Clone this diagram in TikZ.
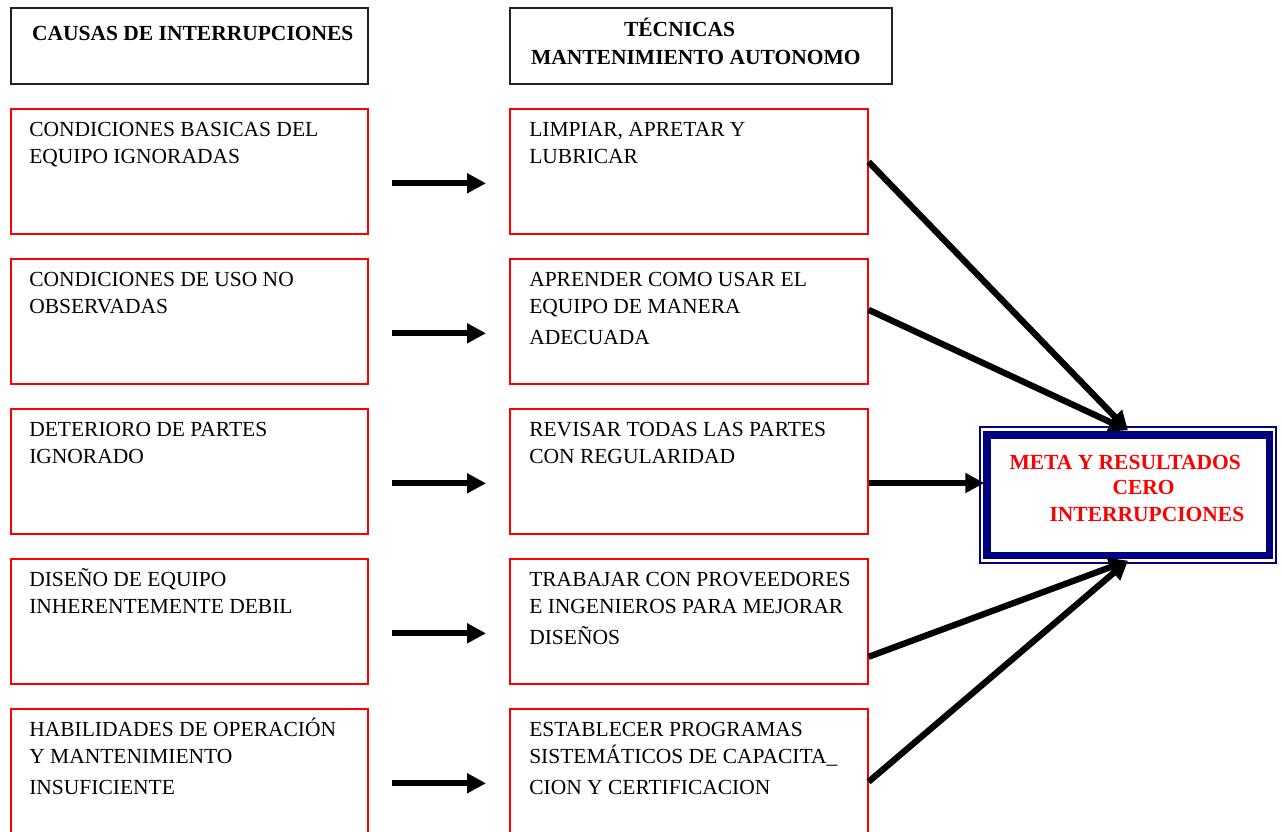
\documentclass[tikz,border=0pt]{standalone}
\usepackage{fontspec}
\setmainfont{Liberation Serif}
\usetikzlibrary{arrows.meta}

\definecolor{boxred}{HTML}{FF0000}
\definecolor{goalnavy}{HTML}{000080}
\definecolor{hdrgray}{HTML}{222222}

% lines of a box label, aligned on the baseline of the first line
\newcommand\boxlines[1]{\begin{tabular}[t]{@{}l@{}}#1\end{tabular}}

\tikzset{
  causebox/.style={draw=boxred, line width=1.9pt, minimum width=357.6pt,
                   minimum height=125pt, inner sep=0pt},
  headbox/.style={draw=hdrgray, line width=2.2pt, minimum height=75.7pt, inner sep=0pt},
  boxtext/.style={anchor=base west, inner sep=0pt, font=\fontsize{21.5}{27.5}\selectfont},
  headtext/.style={anchor=base west, inner sep=0pt, font=\fontsize{21.5}{27.5}\selectfont\bfseries},
  goaltext/.style={anchor=base west, inner sep=0pt, text=boxred,
                   font=\fontsize{21.5}{25}\selectfont\bfseries},
  goalbox/.style={draw=goalnavy, line width=1.3pt, minimum width=296pt,
                  minimum height=136pt, inner sep=0pt},
  flow/.style={line width=6.3pt, -{Triangle[length=19pt,width=19pt]}},
}

\begin{document}
\begin{tikzpicture}[x=1pt, y=-1pt]
\useasboundingbox (0,0) rectangle (1283,831);
\clip (0,0) rectangle (1283,831);

% column headers
\node[headbox, minimum width=357.6pt] (h1) at (189.5,46.2) {};
\node[headbox, minimum width=381.7pt] (h2) at (700.8,46.2) {};
\node[headtext] (h1t) at ([xshift=22.3pt,yshift=-33.7pt]h1.north west)
  {CAUSAS DE INTERRUPCIONES};
\node[headtext] (h2t) at ([xshift=22pt,yshift=-29.7pt]h2.north west)
  {\boxlines{\hspace*{93pt}TÉCNICAS\\ MANTENIMIENTO AUTONOMO}};

% causes (left column)
\node[causebox] (l1) at (189.5,171.8) {};
\node[causebox] (l2) at (189.5,321.8) {};
\node[causebox] (l3) at (189.5,471.8) {};
\node[causebox] (l4) at (189.5,621.8) {};
\node[causebox] (l5) at (189.5,771.8) {};

% techniques (right column)
\node[causebox] (r1) at (688.8,171.8) {};
\node[causebox] (r2) at (688.8,321.8) {};
\node[causebox] (r3) at (688.8,471.8) {};
\node[causebox] (r4) at (688.8,621.8) {};
\node[causebox] (r5) at (688.8,771.8) {};

\node[boxtext] (l1t) at ([xshift=19.3pt,yshift=-28pt]l1.north west)
  {\boxlines{CONDICIONES BASICAS DEL\\ EQUIPO IGNORADAS}};
\node[boxtext] (l2t) at ([xshift=19.3pt,yshift=-28pt]l2.north west)
  {\boxlines{CONDICIONES DE USO NO\\ OBSERVADAS}};
\node[boxtext] (l3t) at ([xshift=19.3pt,yshift=-28pt]l3.north west)
  {\boxlines{DETERIORO DE PARTES\\ IGNORADO}};
\node[boxtext] (l4t) at ([xshift=19.3pt,yshift=-28pt]l4.north west)
  {\boxlines{DISEÑO DE EQUIPO\\ INHERENTEMENTE DEBIL}};
\node[boxtext] (l5t) at ([xshift=19.3pt,yshift=-28pt]l5.north west)
  {\boxlines{HABILIDADES DE OPERACIÓN\\ Y MANTENIMIENTO\\[3pt] INSUFICIENTE}};

\node[boxtext] (r1t) at ([xshift=20pt,yshift=-28pt]r1.north west)
  {\boxlines{LIMPIAR, APRETAR Y\\ LUBRICAR}};
\node[boxtext] (r2t) at ([xshift=20pt,yshift=-28pt]r2.north west)
  {\boxlines{APRENDER COMO USAR EL\\ EQUIPO DE MANERA\\[3pt] ADECUADA}};
\node[boxtext] (r3t) at ([xshift=20pt,yshift=-28pt]r3.north west)
  {\boxlines{REVISAR TODAS LAS PARTES\\ CON REGULARIDAD}};
\node[boxtext] (r4t) at ([xshift=20pt,yshift=-28pt]r4.north west)
  {\boxlines{TRABAJAR CON PROVEEDORES\\ E INGENIEROS PARA MEJORAR\\[3pt] DISEÑOS}};
\node[boxtext] (r5t) at ([xshift=20pt,yshift=-28pt]r5.north west)
  {\boxlines{ESTABLECER PROGRAMAS\\ SISTEMÁTICOS DE CAPACITA\_\\[3pt] CION Y CERTIFICACION}};

% goal box with its heavy inner frame
\node[goalbox] (goal) at (1128,495) {};
\draw[goalnavy, line width=7.5pt]
  ([shift={(7.5pt,-8.5pt)}]goal.north west) rectangle ([shift={(-7pt,8pt)}]goal.south east);
\node[goaltext] (goalt) at ([xshift=30pt,yshift=-43pt]goal.north west)
  {\boxlines{META Y RESULTADOS\\ \hspace*{103pt}CERO\\[2pt] \hspace*{40pt}INTERRUPCIONES}};

% cause -> technique arrows
\draw[flow] ([xshift=23pt,yshift=-11.5pt]l1.east) -- ([xshift=-23pt,yshift=-11.5pt]r1.west);
\draw[flow] ([xshift=23pt,yshift=-11.5pt]l2.east) -- ([xshift=-23pt,yshift=-11.5pt]r2.west);
\draw[flow] ([xshift=23pt,yshift=-11.5pt]l3.east) -- ([xshift=-23pt,yshift=-11.5pt]r3.west);
\draw[flow] ([xshift=23pt,yshift=-11.5pt]l4.east) -- ([xshift=-23pt,yshift=-11.5pt]r4.west);
\draw[flow] ([xshift=23pt,yshift=-11.5pt]l5.east) -- ([xshift=-23pt,yshift=-11.5pt]r5.west);

% technique -> goal arrows
\coordinate (s3) at ([yshift=-11.2pt]r3.east);
\draw[flow] ([yshift=10pt]r1.east) -- ([yshift=-4pt]goal.north);
\draw[flow] ([yshift=12pt]r2.east) -- ([yshift=-4pt]goal.north);
\draw[flow] (s3) -- ([xshift=5pt]s3 -| goal.west);
\draw[flow] ([yshift=-35pt]r4.east) -- ([yshift=3pt]goal.south);
\draw[flow] ([yshift=-10pt]r5.east) -- ([yshift=3pt]goal.south);
\end{tikzpicture}
\end{document}
